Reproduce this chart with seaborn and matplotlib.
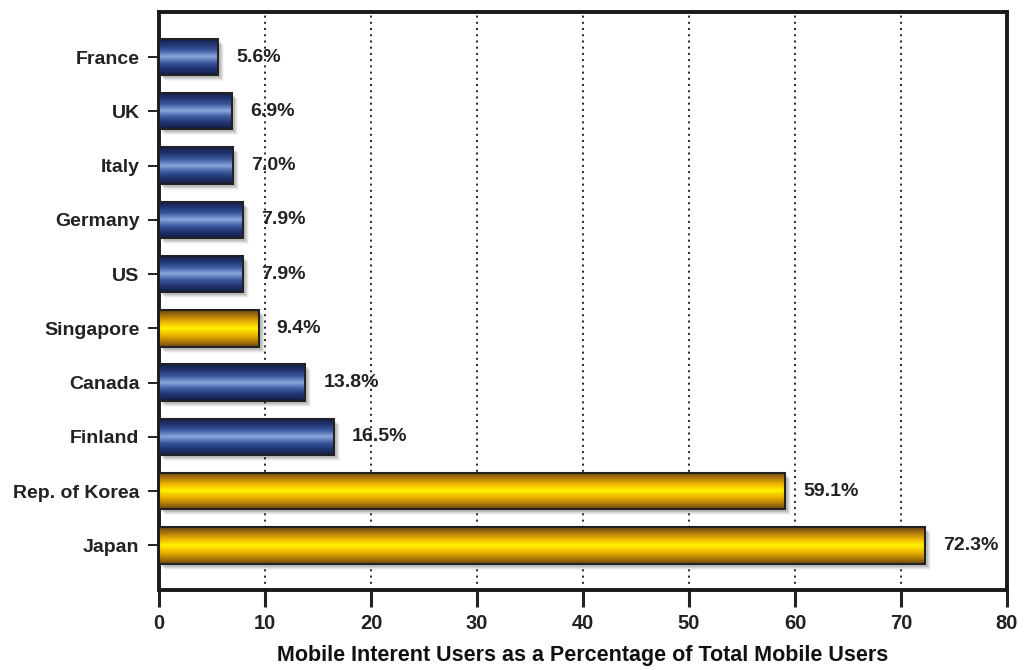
import numpy as np
import matplotlib
matplotlib.use("Agg")
import matplotlib.pyplot as plt
import seaborn as sns
from matplotlib.colors import LinearSegmentedColormap
from matplotlib.patches import Rectangle
from matplotlib.transforms import offset_copy

# Mobile internet users as share of all mobile users, by country
countries = ["France", "UK", "Italy", "Germany", "US", "Singapore",
             "Canada", "Finland", "Rep. of Korea", "Japan"]
shares = [5.6, 6.9, 7.0, 7.9, 7.9, 9.4, 13.8, 16.5, 59.1, 72.3]
asian = [False, False, False, False, False, True, False, False, True, True]
x_ticks = [0, 10, 20, 30, 40, 50, 60, 70, 80]
x_title = "Mobile Interent Users as a Percentage of Total Mobile Users"

sns.set_theme(style="white")
plt.rcParams["font.family"] = ["Liberation Sans", "DejaVu Sans"]
plt.rcParams["font.weight"] = "bold"

ink = "#222222"
blue_cmap = LinearSegmentedColormap.from_list(
    "tube_blue",
    ["#141f45", "#1f3370", "#3d5aa0", "#8aa8dc", "#3d5aa0", "#1f3370", "#141f45"])
gold_cmap = LinearSegmentedColormap.from_list(
    "tube_gold",
    ["#6a4510", "#b07c0c", "#f0b800", "#fff200", "#f0b800", "#b88208", "#6a4510"])

fig = plt.figure(figsize=(10.24, 6.70), dpi=100)
fig.patch.set_facecolor("white")
ax = fig.add_axes([159 / 1024, 1 - 590 / 670, (1007 - 159) / 1024, (590 - 12) / 670])

sns.barplot(x=shares, y=countries, orient="h", ax=ax, width=0.67,
            color="#243a78", edgecolor=ink, linewidth=1.5, zorder=3)

ax.set_xlim(0, 80)
ax.set_ylim(9.82, -0.83)

gradient = np.linspace(0, 1, 256).reshape(-1, 1)
for patch, gold, val in zip(ax.patches, asian, shares):
    x0, y0 = patch.get_x(), patch.get_y()
    w, h = patch.get_width(), patch.get_height()
    # soft drop shadow to the lower right
    for k, a in enumerate([0.10, 0.08, 0.06, 0.04]):
        tr = offset_copy(ax.transData, fig=fig, x=3 + k, y=-(3 + k), units="dots")
        ax.add_patch(Rectangle((x0, y0), w, h, transform=tr, facecolor="#000000",
                               edgecolor="none", alpha=a, zorder=2))
    img = ax.imshow(gradient, cmap=gold_cmap if gold else blue_cmap, aspect="auto",
                    extent=(x0, x0 + w, y0 + h, y0), zorder=3.5,
                    interpolation="bilinear")
    img.set_clip_path(patch)
    patch.set_facecolor("none")
    patch.set_zorder(4)
    ax.annotate(f"{val:.1f}%", xy=(x0 + w, y0 + h / 2), xytext=(13, 0),
                textcoords="offset points", ha="left", va="center",
                fontsize=14, fontweight="bold", color=ink, zorder=5)

ax.set_xlim(0, 80)
ax.set_ylim(9.82, -0.83)

ax.set_xticks(x_ticks)
ax.set_xticklabels([str(t) for t in x_ticks])
ax.xaxis.grid(True, linestyle=(0, (1.0, 2.2)), color=ink, linewidth=1.4, zorder=1)
ax.yaxis.grid(False)
ax.set_axisbelow(True)

for side in ["left", "right", "top", "bottom"]:
    ax.spines[side].set_visible(True)
    ax.spines[side].set_color("#1a1a1a")
    ax.spines[side].set_linewidth(2.8)

ax.tick_params(axis="y", left=True, length=8, width=1.4, direction="out", color=ink,
               labelsize=14, labelcolor=ink, pad=6)
ax.tick_params(axis="x", bottom=True, length=12, width=2.2, direction="out", color=ink,
               labelsize=14.5, labelcolor=ink, pad=5)
for lab in ax.get_xticklabels() + ax.get_yticklabels():
    lab.set_fontweight("bold")

ax.set_ylabel("")
ax.set_xlabel(x_title, fontsize=15.5, fontweight="bold", color="#111111", labelpad=9)

fig.savefig("out.png", dpi=100, facecolor="white")
